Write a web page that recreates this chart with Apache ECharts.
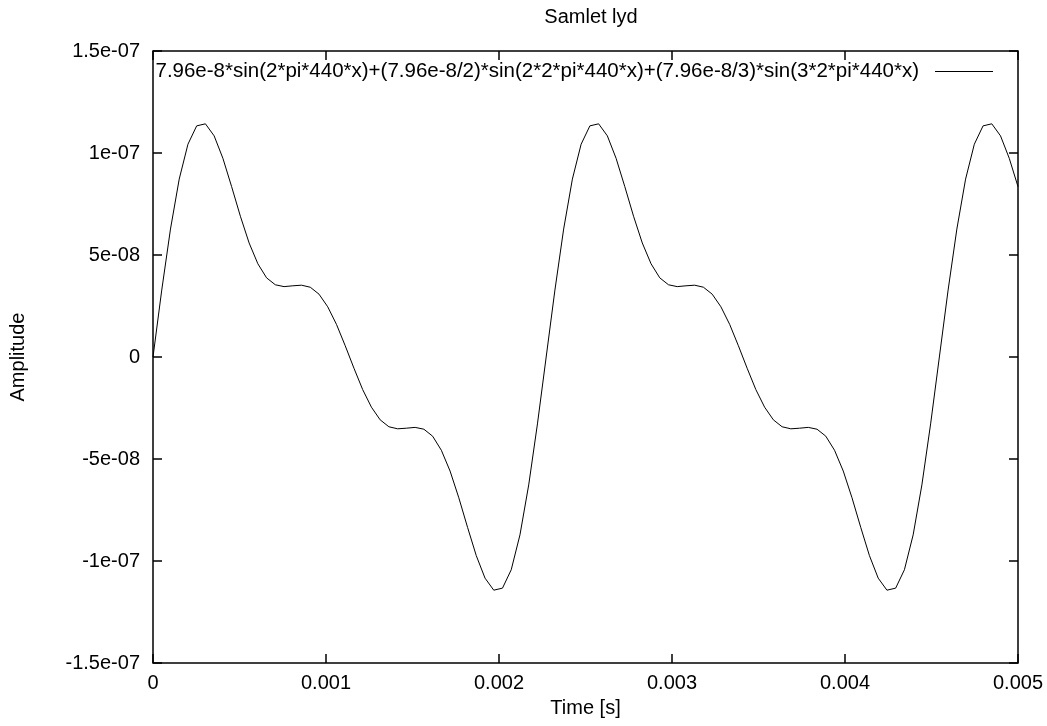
<!DOCTYPE html>
<html>
<head>
<meta charset="utf-8">
<title>Samlet lyd</title>
<script src="https://cdn.jsdelivr.net/npm/echarts@6/dist/echarts.min.js"></script>
<style>
  html, body { margin: 0; padding: 0; background: #fff; }
  #chart { width: 1047px; height: 726px; }
</style>
</head>
<body>
<div id="chart"></div>
<script>
// Sampled time points [s] (100 samples over 0 .. 0.005 s)
const time = [
  0, 0.0000505, 0.0001010, 0.0001515, 0.0002020, 0.0002525, 0.0003030, 0.0003535, 0.0004040, 0.0004545,
  0.0005051, 0.0005556, 0.0006061, 0.0006566, 0.0007071, 0.0007576, 0.0008081, 0.0008586, 0.0009091, 0.0009596,
  0.0010101, 0.0010606, 0.0011111, 0.0011616, 0.0012121, 0.0012626, 0.0013131, 0.0013636, 0.0014141, 0.0014646,
  0.0015152, 0.0015657, 0.0016162, 0.0016667, 0.0017172, 0.0017677, 0.0018182, 0.0018687, 0.0019192, 0.0019697,
  0.0020202, 0.0020707, 0.0021212, 0.0021717, 0.0022222, 0.0022727, 0.0023232, 0.0023737, 0.0024242, 0.0024747,
  0.0025253, 0.0025758, 0.0026263, 0.0026768, 0.0027273, 0.0027778, 0.0028283, 0.0028788, 0.0029293, 0.0029798,
  0.0030303, 0.0030808, 0.0031313, 0.0031818, 0.0032323, 0.0032828, 0.0033333, 0.0033838, 0.0034343, 0.0034848,
  0.0035354, 0.0035859, 0.0036364, 0.0036869, 0.0037374, 0.0037879, 0.0038384, 0.0038889, 0.0039394, 0.0039899,
  0.0040404, 0.0040909, 0.0041414, 0.0041919, 0.0042424, 0.0042929, 0.0043434, 0.0043939, 0.0044444, 0.0044949,
  0.0045455, 0.0045960, 0.0046465, 0.0046970, 0.0047475, 0.0047980, 0.0048485, 0.0048990, 0.0049495, 0.0050000
];

// Amplitude at each sample
const amplitude = [
  0, 3.28e-8, 6.27e-8, 8.72e-8, 10.43e-8, 11.33e-8, 11.43e-8, 10.84e-8, 9.74e-8, 8.35e-8,
  6.90e-8, 5.59e-8, 4.57e-8, 3.88e-8, 3.54e-8, 3.45e-8, 3.49e-8, 3.52e-8, 3.42e-8, 3.08e-8,
  2.46e-8, 1.60e-8, 0.55e-8, -0.55e-8, -1.60e-8, -2.46e-8, -3.08e-8, -3.42e-8, -3.52e-8, -3.49e-8,
  -3.45e-8, -3.54e-8, -3.88e-8, -4.57e-8, -5.59e-8, -6.90e-8, -8.35e-8, -9.74e-8, -10.84e-8, -11.43e-8,
  -11.33e-8, -10.43e-8, -8.72e-8, -6.27e-8, -3.28e-8, 0, 3.28e-8, 6.27e-8, 8.72e-8, 10.43e-8,
  11.33e-8, 11.43e-8, 10.84e-8, 9.74e-8, 8.35e-8, 6.90e-8, 5.59e-8, 4.57e-8, 3.88e-8, 3.54e-8,
  3.45e-8, 3.49e-8, 3.52e-8, 3.42e-8, 3.08e-8, 2.46e-8, 1.60e-8, 0.55e-8, -0.55e-8, -1.60e-8,
  -2.46e-8, -3.08e-8, -3.42e-8, -3.52e-8, -3.49e-8, -3.45e-8, -3.54e-8, -3.88e-8, -4.57e-8, -5.59e-8,
  -6.90e-8, -8.35e-8, -9.74e-8, -10.84e-8, -11.43e-8, -11.33e-8, -10.43e-8, -8.72e-8, -6.27e-8, -3.28e-8,
  0, 3.28e-8, 6.27e-8, 8.72e-8, 10.43e-8, 11.33e-8, 11.43e-8, 10.84e-8, 9.74e-8, 8.35e-8
];

const seriesName = '7.96e-8*sin(2*pi*440*x)+(7.96e-8/2)*sin(2*2*pi*440*x)+(7.96e-8/3)*sin(3*2*pi*440*x)';

const xTickLabels = ['0', '0.001', '0.002', '0.003', '0.004', '0.005'];
const yTickLabels = ['-1.5e-07', '-1e-07', '-5e-08', '0', '5e-08', '1e-07', '1.5e-07'];

const X_MIN = 0, X_MAX = 0.005, X_STEP = 0.001;
const Y_MIN = -1.5e-7, Y_MAX = 1.5e-7, Y_STEP = 5e-8;

const FONT = '"Liberation Sans", Arial, sans-serif';
const INK = '#000';

function pickLabel(list, min, step) {
  return function (v) {
    const i = Math.round((v - min) / step);
    return list[i] !== undefined ? list[i] : '';
  };
}

// gnuplot-style ticks: drawn inward on all four sides of the frame
const tickInside = { show: true, inside: true, length: 9, lineStyle: { color: INK, width: 1.5 } };
const noLine = { show: false, onZero: false };

const baseX = {
  type: 'value', min: X_MIN, max: X_MAX, interval: X_STEP,
  axisLine: noLine, splitLine: { show: false },
  axisTick: tickInside
};
const baseY = {
  type: 'value', min: Y_MIN, max: Y_MAX, interval: Y_STEP,
  axisLine: noLine, splitLine: { show: false },
  axisTick: tickInside
};

const chart = echarts.init(document.getElementById('chart'), null, { renderer: 'canvas' });

chart.setOption({
  animation: false,
  backgroundColor: '#fff',
  textStyle: { fontFamily: FONT, color: INK },
  title: {
    text: 'Samlet lyd',
    left: 586, top: 2, textAlign: 'center',
    textStyle: { fontFamily: FONT, fontSize: 20, fontWeight: 'normal', color: INK }
  },
  grid: {
    left: 153, right: 29, top: 51, bottom: 63,
    show: true, borderColor: INK, borderWidth: 1.5, backgroundColor: 'transparent'
  },
  legend: {
    show: true,
    right: 54, top: 61, padding: 0,
    align: 'right',
    icon: 'rect', itemWidth: 58, itemHeight: 1,
    itemStyle: { color: INK },
    textStyle: { fontFamily: FONT, fontSize: 20.5, color: INK, padding: [0, 11, 0, 0] },
    data: [{ name: seriesName }]
  },
  xAxis: [
    Object.assign({}, baseX, {
      position: 'bottom',
      name: 'Time [s]', nameLocation: 'middle', nameGap: 35,
      nameTextStyle: { fontFamily: FONT, fontSize: 20, color: INK },
      axisLabel: { fontFamily: FONT, fontSize: 20, color: INK, margin: 10, formatter: pickLabel(xTickLabels, X_MIN, X_STEP) }
    }),
    Object.assign({}, baseX, { position: 'top', axisLabel: { show: false } })
  ],
  yAxis: [
    Object.assign({}, baseY, {
      position: 'left',
      name: 'Amplitude', nameLocation: 'middle', nameGap: 125, nameRotate: 90,
      nameTextStyle: { fontFamily: FONT, fontSize: 20, color: INK },
      axisLabel: { fontFamily: FONT, fontSize: 20, color: INK, margin: 13, formatter: pickLabel(yTickLabels, Y_MIN, Y_STEP) }
    }),
    Object.assign({}, baseY, { position: 'right', axisLabel: { show: false } })
  ],
  series: [{
    name: seriesName,
    type: 'line',
    xAxisIndex: 0, yAxisIndex: 0,
    data: time.map((t, i) => [t, amplitude[i]]),
    showSymbol: false,
    smooth: false,
    lineStyle: { color: INK, width: 1 },
    itemStyle: { color: INK },
    silent: true
  }]
});
</script>
</body>
</html>
